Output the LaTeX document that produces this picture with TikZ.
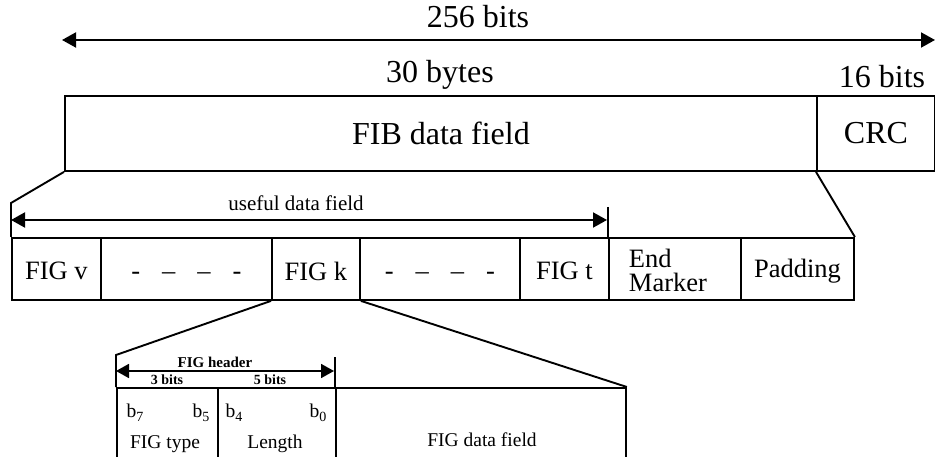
\documentclass[tikz,border=0pt]{standalone}
\usepackage{fontspec}
\setmainfont{Liberation Serif}
\usetikzlibrary{arrows.meta,calc}
\begin{document}
\begin{tikzpicture}[x=1pt,y=-1pt,
  line width=1.9pt,
  cell/.style={draw, rectangle, inner sep=0pt, anchor=north west, line width=1.9pt},
  txt/.style={inner sep=0pt, anchor=center},
  big/.style={font=\fontsize{32}{36}\selectfont},
  mid/.style={font=\fontsize{26.5}{24}\selectfont},
  lbl/.style={font=\fontsize{21}{24}\selectfont},
  sub/.style={font=\fontsize{19.5}{22}\selectfont},
  tiny/.style={font=\bfseries\fontsize{15}{17}\selectfont},
  tinier/.style={font=\bfseries\fontsize{14}{15}\selectfont},
  span/.style={{Triangle[length=14pt,width=15pt]}-{Triangle[length=14pt,width=15pt]}, line width=1.9pt},
  hspan/.style={{Triangle[length=13pt,width=14pt]}-{Triangle[length=13pt,width=14pt]}, line width=1.8pt},
]
\useasboundingbox (0,0) rectangle (935,457);

\newcommand{\bsub}[1]{b\raisebox{-0.45ex}{\fontsize{14}{14}\selectfont #1}}
\newcommand{\gapdashes}{-\hspace{22pt}--\hspace{22pt}--\hspace{22pt}-}

% ---- FIB: data field + CRC ----
\node[cell, big, minimum width=752pt, minimum height=75pt] (fib) at (64,95) {FIB data field};
\node[cell, big, minimum width=118pt, minimum height=75pt] (crc) at (816,95) {CRC};

\coordinate (topL) at (62,40);
\coordinate (topR) at (935,40);
\draw[span] (topL) -- (topR);
\node[txt, big] (total) at (478,17) {256 bits};
\node[txt, big] (bytes) at (440,75) {30 bytes};
\node[txt, big] (crcbits) at (882,77) {16 bits};

% ---- FIG sequence inside the data field ----
\node[cell, minimum width=89pt,  minimum height=62pt] (figv) at (11,237)  {};
\node[cell, minimum width=171pt, minimum height=62pt] (dsh1) at (100,237) {};
\node[cell, minimum width=88pt,  minimum height=62pt] (figk) at (271,237) {};
\node[cell, minimum width=160pt, minimum height=62pt] (dsh2) at (359,237) {};
\node[cell, minimum width=89pt,  minimum height=62pt] (figt) at (519,237) {};
\node[cell, minimum width=132pt, minimum height=62pt] (endm) at (608,237) {};
\node[cell, minimum width=113pt, minimum height=62pt] (pad)  at (740,237) {};

\node[txt, mid] (tv) at ($(figv.center)+(0,2)$) {FIG v};
\node[txt, mid] (tk) at ($(figk.center)+(0,2)$) {FIG k};
\node[txt, mid] (tt) at ($(figt.center)+(0,2)$) {FIG t};
\node[txt, mid] (tp) at ($(pad.center)+(0,2)$) {Padding};
\node[txt, mid, align=left] (te) at ($(endm.center)+(-7,1)$) {End\\Marker};
\node[txt, mid] (td1) at ($(dsh1.center)+(0,7)$) {\gapdashes};
\node[txt, mid] (td2) at ($(dsh2.center)+(0,7)$) {\gapdashes};

% expansion of the data field
\coordinate (fibL) at (11,203);
\draw (fib.south west) -- (fibL) -- (figv.north west);
\draw (crc.south west) -- (pad.north east);

% useful data field span
\coordinate (useL) at (11,220);
\coordinate (useR) at (607,220);
\coordinate (useTick) at (608,207);
\draw[span] (useL) -- (useR);
\draw (useTick) -- (endm.north west);
\node[txt, lbl] (useful) at (296,203) {useful data field};

% ---- FIG k in detail ----
\node[cell, minimum width=101pt, minimum height=70pt] (ftype) at (116,387) {};
\node[cell, minimum width=118pt, minimum height=70pt] (flen)  at (217,387) {};
\node[cell, minimum width=290pt, minimum height=70pt] (fdata) at (335,387) {};

\coordinate (kL) at (116,355);
\draw (figk.south west) -- (kL) -- (ftype.north west);
\draw (figk.south east) -- (fdata.north east);

\coordinate (hdrL) at (116,371);
\coordinate (hdrR) at (334,371);
\coordinate (hdrTick) at (335,357);
\draw[hspan] (hdrL) -- (hdrR);
\draw (hdrTick) -- (fdata.north west);
\node[txt, tiny] (hdr) at (215,362) {FIG header};
\node[txt, tinier] (b3) at (167,380) {3 bits};
\node[txt, tinier] (b5bits) at (270,380) {5 bits};

\node[txt, sub] (s7) at (135,413) {\bsub{7}};
\node[txt, sub] (s5) at (201,413) {\bsub{5}};
\node[txt, sub] (s4) at (234,413) {\bsub{4}};
\node[txt, sub] (s0) at (318,413) {\bsub{0}};
\node[txt, sub] (ltype) at (165,444) {FIG type};
\node[txt, sub] (llen)  at (275,444) {Length};
\node[txt, sub] (ldata) at (482,440) {FIG data field};
\end{tikzpicture}
\end{document}
